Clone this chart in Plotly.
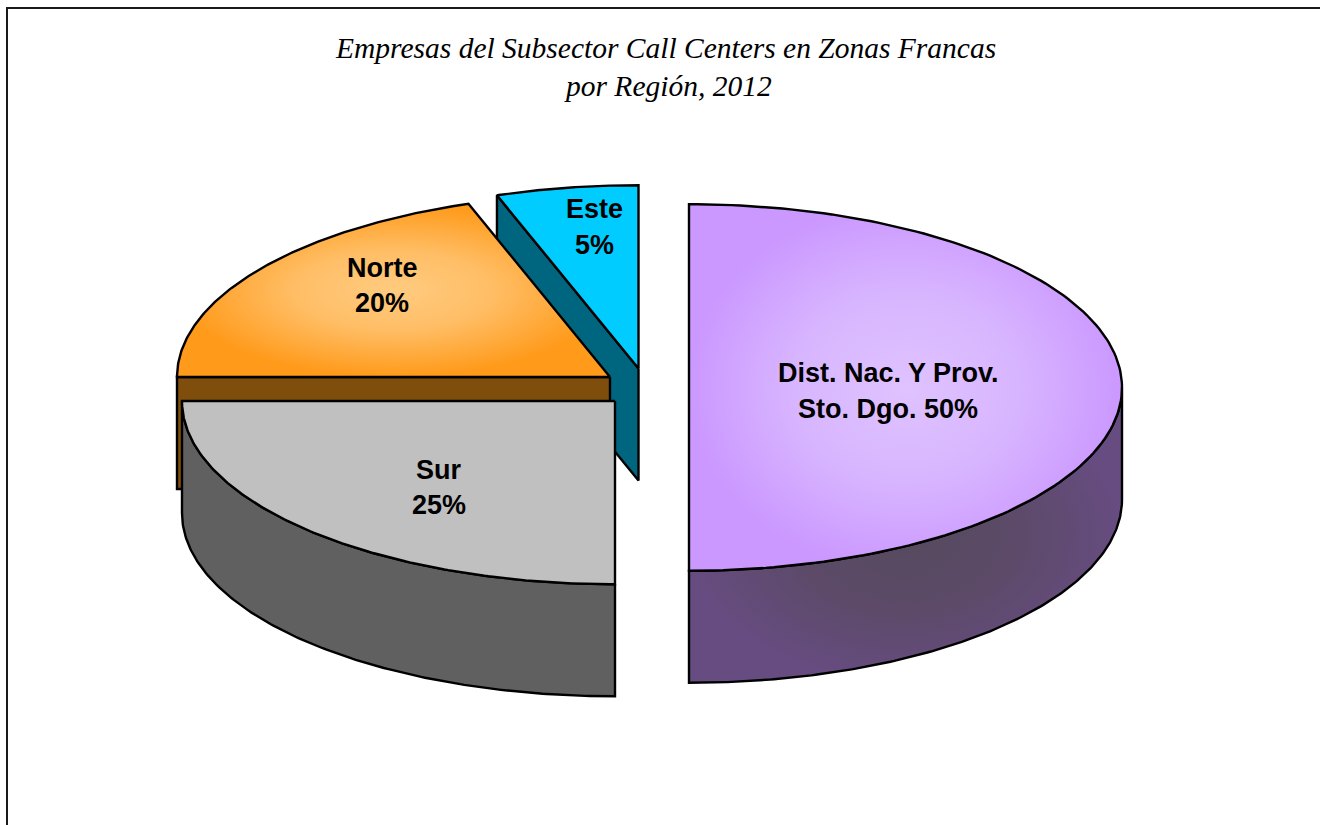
import numpy as np
import plotly.graph_objects as go

# --- data (clockwise from 12 o'clock) ---
regions = ["Dist. Nac. Y Prov. Sto. Dgo.", "Sur", "Norte", "Este"]
shares = [50.0, 25.0, 19.7, 5.3]
label_lines = [["Dist. Nac. Y Prov.", "Sto. Dgo. 50%"], ["Sur", "25%"], ["Norte", "20%"], ["Este", "5%"]]
title_lines = ["Empresas del Subsector Call Centers en Zonas Francas", "por Región, 2012"]

# --- styling / layout constants ---
W, H = 1320, 825
RX, RY, DEPTH = 433.0, 183.3, 112.0
centers = [(689, 387.5), (615, 401), (610, 377), (638.5, 368.5)]
top_grad = [[[0, "#DFC2FF"], [0.5, "#D8B6FF"], [1, "#CB98FF"]], None,
            [[0, "#FFCB80"], [0.45, "#FFBE66"], [1, "#FF9A1A"]], None]
top_solid = ["#CC99FF", "#C0C0C0", "#FF9912", "#00CCFF"]
side_solid = ["#664C80", "#606060", "#7F4E0C", "#006680"]
label_pos = [[(888, 373), (888, 409)], [(439, 470), (439, 505)], [(382, 268), (382, 303)], [(594, 209), (594, 245)]]
title_pos = [(665.5, 48), (668, 85.5)]

BLACK = "#000000"
angles = np.cumsum([0.0] + shares) / sum(shares) * 2 * np.pi


def arc(c, t0, t1, dy=0.0, n=160):
    t = np.linspace(t0, t1, n)
    return c[0] + RX * np.sin(t), c[1] - RY * np.cos(t) + dy


fig = go.Figure()


def poly(x, y, color, grad=None):
    kw = dict(fillgradient=dict(type="radial", colorscale=grad)) if grad else {}
    fig.add_trace(go.Scatter(x=list(x) + [x[0]], y=list(y) + [y[0]], mode="lines", fill="toself",
                             fillcolor=color, line=dict(color=BLACK, width=2.4), hoverinfo="skip",
                             showlegend=False, **kw))


def top(i):
    c = centers[i]
    ax, ay = arc(c, angles[i], angles[i + 1])
    poly([c[0], *ax], [c[1], *ay], top_solid[i], top_grad[i])


def wall(i, t):
    c = centers[i]
    ex = c[0] + RX * np.sin(t)
    ey = c[1] - RY * np.cos(t)
    poly([c[0], ex, ex, c[0]], [c[1], ey, ey + DEPTH, c[1] + DEPTH], side_solid[i])


def rim(i, t0, t1, grad=None):
    c = centers[i]
    ax, ay = arc(c, t0, t1)
    bx, by = arc(c, t1, t0, DEPTH)
    poly([*ax, *bx], [*ay, *by], side_solid[i], grad)


# back to front: Este, Norte, Sur, Dist
wall(3, angles[3])
top(3)
wall(2, angles[2])
top(2)
rim(1, np.pi, 1.5 * np.pi)
top(1)
rim(0, 0.5 * np.pi, np.pi, [[0, "#564A5E"], [0.5, "#5C4A68"], [1, "#664C80"]])
top(0)

annotations = []
for lines, pos in zip(label_lines, label_pos):
    for s, (px, py) in zip(lines, pos):
        annotations.append(dict(x=px, y=py, text=f"<b>{s}</b>", showarrow=False, xref="x", yref="y",
                                font=dict(family="Liberation Sans", size=27, color=BLACK)))
for s, (px, py) in zip(title_lines, title_pos):
    annotations.append(dict(x=px, y=py, text=f"<i>{s}</i>", showarrow=False, xref="x", yref="y",
                            font=dict(family="Liberation Serif", size=29.5, color=BLACK)))

fig.update_layout(
    width=W, height=H, autosize=False,
    margin=dict(l=0, r=0, t=0, b=0),
    paper_bgcolor="#FFFFFF", plot_bgcolor="#FFFFFF",
    xaxis=dict(range=[0, W], visible=False, fixedrange=True),
    yaxis=dict(range=[H, 0], visible=False, fixedrange=True),
    annotations=annotations,
    shapes=[dict(type="rect", xref="x", yref="y", x0=7, y0=8, x1=W + 50, y1=H + 50,
                 line=dict(color="#1A1A1A", width=2), layer="below")],
)
fig.write_html("out.html", config={"displayModeBar": False},
               post_script="document.body.style.margin='0';document.documentElement.style.overflow='hidden';")
